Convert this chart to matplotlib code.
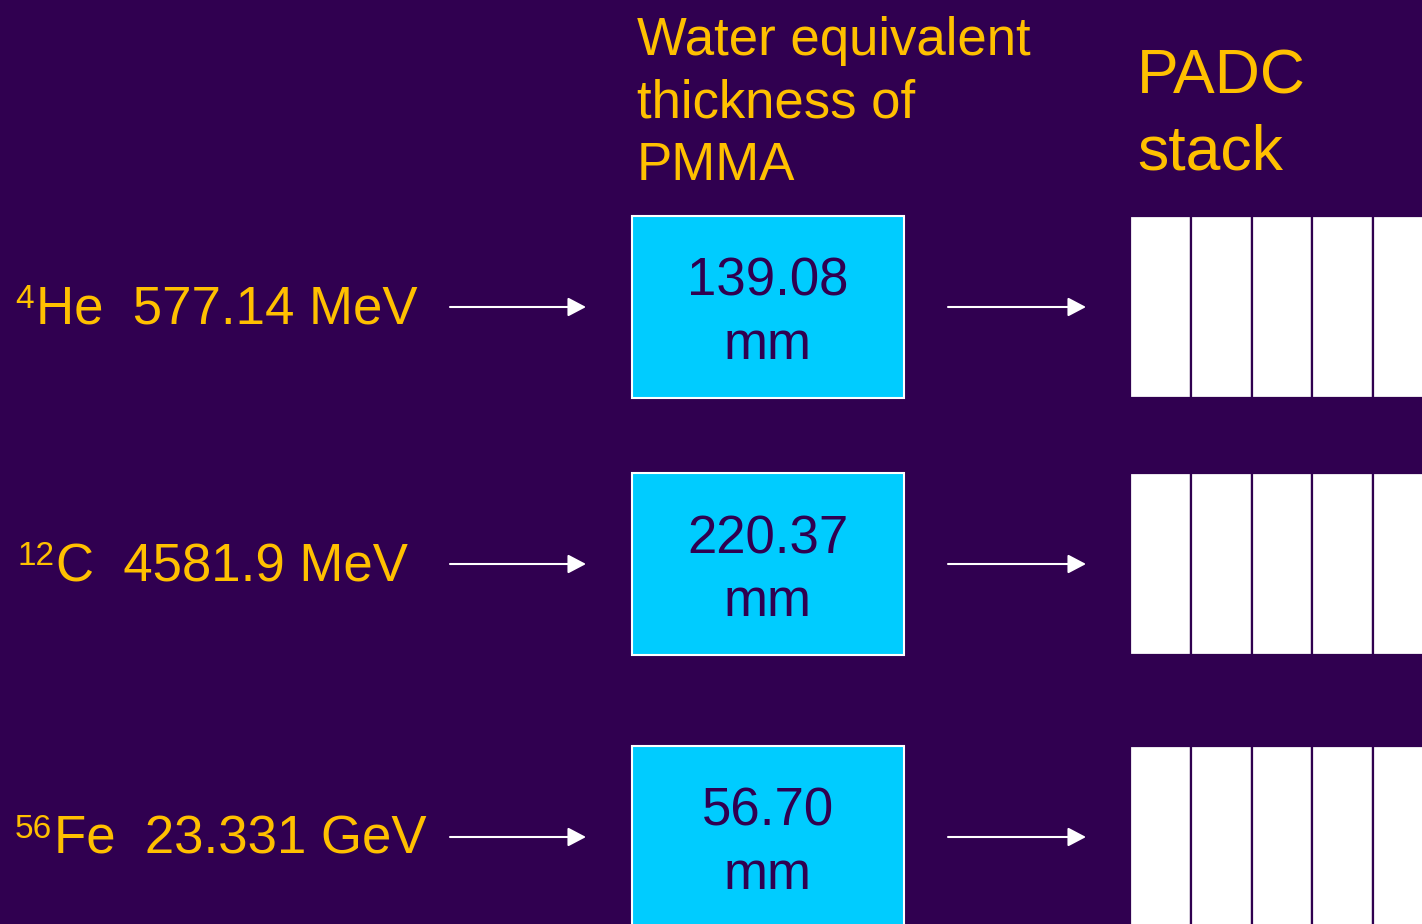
import matplotlib
matplotlib.use("Agg")
import matplotlib.pyplot as plt
from matplotlib.patches import Rectangle, FancyArrowPatch

# values
mass_numbers = ["4", "12", "56"]
elements = ["He", "C", "Fe"]
energies = ["577.14 MeV", "4581.9 MeV", "23.331 GeV"]
thickness = ["139.08", "220.37", "56.70"]
unit = "mm"
title_pmma = "Water equivalent\nthickness of\nPMMA"
title_stack = "PADC\nstack"

bg = "#300050"
yellow = "#ffc000"
cyan = "#00ccff"

plt.rcParams["font.family"] = ["Liberation Sans", "DejaVu Sans"]

fig = plt.figure(figsize=(14.22, 9.24), dpi=100, facecolor=bg)
ax = fig.add_axes([0, 0, 1, 1])
ax.set_facecolor(bg)
ax.set_xlim(0, 1422)
ax.set_ylim(924, 0)
ax.axis("off")
renderer = fig.canvas.get_renderer()

# headers (baseline of the last line)
ax.text(637, 180, title_pmma, color=yellow, fontsize=38, va="baseline",
        ha="left", linespacing=1.32)
ax.text(1137, 170, title_stack, color=yellow, fontsize=45, va="baseline",
        ha="left", linespacing=1.38)

row_tops = [216, 473, 746]
label_x = [15, 17, 15]
box_h = 182

for i, top in enumerate(row_tops):
    yc = top + box_h / 2
    base = top + 108
    # ion label: mass number as superscript, then element and energy
    sup = ax.text(label_x[i], base - 16, mass_numbers[i], color=yellow,
                  fontsize=24, va="baseline", ha="left")
    x_end = sup.get_window_extent(renderer).x1
    x_data = ax.transData.inverted().transform((x_end, 0))[0]
    ax.text(x_data + 2, base, "%s  %s" % (elements[i], energies[i]),
            color=yellow, fontsize=38, va="baseline", ha="left")
    # arrows
    for x0, x1 in [(450, 586), (948, 1086)]:
        ax.add_patch(FancyArrowPatch((x0, yc), (x1, yc),
                                     arrowstyle="-|>,head_length=1.1,head_width=0.58",
                                     mutation_scale=10, color="white", lw=1.5,
                                     shrinkA=0, shrinkB=0))
    # PMMA box
    ax.add_patch(Rectangle((632, top), 272, box_h, facecolor=cyan,
                           edgecolor="white", lw=1.5))
    ax.text(768, top + 80, thickness[i], color=bg, fontsize=38,
            ha="center", va="baseline")
    ax.text(768, top + 143, unit, color=bg, fontsize=38,
            ha="center", va="baseline")
    # PADC stack sheets
    for k in range(5):
        ax.add_patch(Rectangle((1130 + k * 60.8, top), 60.8, box_h,
                               facecolor="white", edgecolor=bg, lw=1.6))

fig.savefig("out.png", dpi=100, facecolor=bg)
